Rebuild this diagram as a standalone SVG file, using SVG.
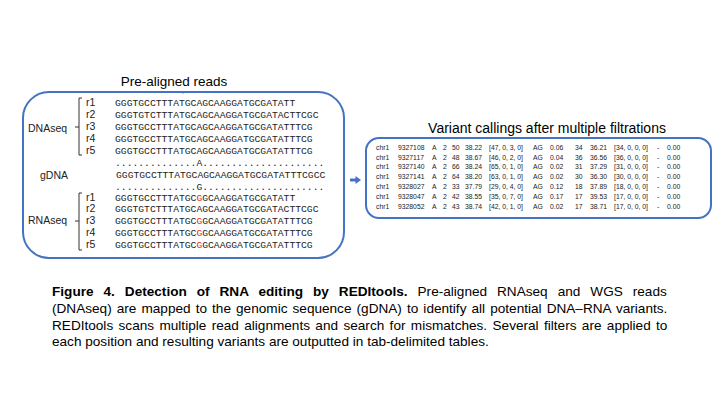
<svg xmlns="http://www.w3.org/2000/svg" width="720" height="405" viewBox="0 0 720 405">
<style>
.box{fill:#fff;stroke:#4472C4;stroke-width:2}
.ttl{font-family:"Liberation Sans",Arial,sans-serif;font-size:14px;fill:#000;text-anchor:middle}
.lbl{font-family:"Liberation Sans",Arial,sans-serif;font-size:10.5px;fill:#222}
.rn{font-family:"Liberation Sans",Arial,sans-serif;font-size:10.5px;fill:#222}
.seq{font-family:"Liberation Mono","Courier New",monospace;font-size:9.7px;fill:#222}
.red{fill:#e0231c}
.br{fill:none;stroke:#333;stroke-width:1}
.tb{font-family:"Liberation Sans",Arial,sans-serif;font-size:6.8px;fill:#222}
.cap{font-family:"Liberation Sans",Arial,sans-serif;font-size:13.6px;fill:#000}
.b{font-weight:bold}
.con{fill:#4472C4}
</style>
<g id="reads">
<text class="ttl" x="174" y="86" style="font-size:13.5px">Pre-aligned reads</text>
<rect class="box" x="23" y="92" width="321" height="166" rx="26" ry="26"/>
<text class="lbl" x="28" y="132">DNAseq</text>
<path class="br" d="M82,98 H79 V155 H82 M79,127 H75"/>
<text class="rn" x="86" y="106">r1</text>
<text class="rn" x="86" y="118">r2</text>
<text class="rn" x="86" y="130">r3</text>
<text class="rn" x="86" y="142">r4</text>
<text class="rn" x="86" y="154">r5</text>
<text class="seq" x="115" y="106">GGGTGCCTTTATGCAGCAAGGATGCGATATT</text>
<text class="seq" x="115" y="118">GGGTGTCTTTATGCAGCAAGGATGCGATACTTCGC</text>
<text class="seq" x="115" y="130">GGGTGCCTTTATGCAGCAAGGATGCGATATTTCG</text>
<text class="seq" x="115" y="142">GGGTGCCTTTATGCAGCAAGGATGCGATATTTCG</text>
<text class="seq" x="115" y="154">GGGTGCCTTTATGCAGCAAGGATGCGATATTTCG</text>
<text class="seq" x="115" y="166">..............A.....................</text>
<text class="lbl" x="40" y="179">gDNA</text>
<text class="seq" x="116" y="178">GGGTGCCTTTATGCAGCAAGGATGCGATATTTCGCC</text>
<text class="seq" x="115" y="190">..............G.....................</text>
<text class="lbl" x="28" y="224">RNAseq</text>
<path class="br" d="M82,193 H79 V250 H82 M79,221 H75"/>
<text class="rn" x="86" y="201">r1</text>
<text class="rn" x="86" y="212">r2</text>
<text class="rn" x="86" y="224">r3</text>
<text class="rn" x="86" y="236">r4</text>
<text class="rn" x="86" y="248">r5</text>
<text class="seq" x="115" y="201">GGGTGCCTTTATGC<tspan class="red">G</tspan>GCAAGGATGCGATATT</text>
<text class="seq" x="115" y="212">GGGTGTCTTTATGCAGCAAGGATGCGATACTTCGC</text>
<text class="seq" x="115" y="224">GGGTGCCTTTATGC<tspan class="red">G</tspan>GCAAGGATGCGATATTTCG</text>
<text class="seq" x="115" y="236">GGGTGCCTTTATGC<tspan class="red">G</tspan>GCAAGGATGCGATATTTCG</text>
<text class="seq" x="115" y="248">GGGTGCCTTTATGC<tspan class="red">G</tspan>GCAAGGATGCGATATTTCG</text>
</g>
<g id="connectors">
<path class="con" d="M350,178.6 H355.5 V176 L361,180 L355.5,184 V181.4 H350 Z"/>
<path class="con" d="M181.5,91.5 H184.5 L183,94 Z"/>
</g>
<g id="variants">
<text class="ttl" x="547" y="133">Variant callings after multiple filtrations</text>
<rect class="box" x="366" y="138" width="345" height="80" rx="13" ry="13"/>
<g class="tb">
<text y="150"><tspan x="376">chr1</tspan><tspan x="398">9327108</tspan><tspan x="432">A</tspan><tspan x="443">2</tspan><tspan x="452">50</tspan><tspan x="465">38.22</tspan><tspan x="489">[47, 0, 3, 0]</tspan><tspan x="533">AG</tspan><tspan x="550">0.06</tspan><tspan x="575">34</tspan><tspan x="590">36.21</tspan><tspan x="614">[34, 0, 0, 0]</tspan><tspan x="657">-</tspan><tspan x="667">0.00</tspan></text>
<text y="160"><tspan x="376">chr1</tspan><tspan x="398">9327117</tspan><tspan x="432">A</tspan><tspan x="443">2</tspan><tspan x="452">48</tspan><tspan x="465">38.67</tspan><tspan x="489">[46, 0, 2, 0]</tspan><tspan x="533">AG</tspan><tspan x="550">0.04</tspan><tspan x="575">36</tspan><tspan x="590">36.56</tspan><tspan x="614">[36, 0, 0, 0]</tspan><tspan x="657">-</tspan><tspan x="667">0.00</tspan></text>
<text y="169"><tspan x="376">chr1</tspan><tspan x="398">9327140</tspan><tspan x="432">A</tspan><tspan x="443">2</tspan><tspan x="452">66</tspan><tspan x="465">38.24</tspan><tspan x="489">[65, 0, 1, 0]</tspan><tspan x="533">AG</tspan><tspan x="550">0.02</tspan><tspan x="575">31</tspan><tspan x="590">37.29</tspan><tspan x="614">[31, 0, 0, 0]</tspan><tspan x="657">-</tspan><tspan x="667">0.00</tspan></text>
<text y="179"><tspan x="376">chr1</tspan><tspan x="398">9327141</tspan><tspan x="432">A</tspan><tspan x="443">2</tspan><tspan x="452">64</tspan><tspan x="465">38.20</tspan><tspan x="489">[63, 0, 1, 0]</tspan><tspan x="533">AG</tspan><tspan x="550">0.02</tspan><tspan x="575">30</tspan><tspan x="590">36.30</tspan><tspan x="614">[30, 0, 0, 0]</tspan><tspan x="657">-</tspan><tspan x="667">0.00</tspan></text>
<text y="189"><tspan x="376">chr1</tspan><tspan x="398">9328027</tspan><tspan x="432">A</tspan><tspan x="443">2</tspan><tspan x="452">33</tspan><tspan x="465">37.79</tspan><tspan x="489">[29, 0, 4, 0]</tspan><tspan x="533">AG</tspan><tspan x="550">0.12</tspan><tspan x="575">18</tspan><tspan x="590">37.89</tspan><tspan x="614">[18, 0, 0, 0]</tspan><tspan x="657">-</tspan><tspan x="667">0.00</tspan></text>
<text y="199"><tspan x="376">chr1</tspan><tspan x="398">9328047</tspan><tspan x="432">A</tspan><tspan x="443">2</tspan><tspan x="452">42</tspan><tspan x="465">38.55</tspan><tspan x="489">[35, 0, 7, 0]</tspan><tspan x="533">AG</tspan><tspan x="550">0.17</tspan><tspan x="575">17</tspan><tspan x="590">39.53</tspan><tspan x="614">[17, 0, 0, 0]</tspan><tspan x="657">-</tspan><tspan x="667">0.00</tspan></text>
<text y="209"><tspan x="376">chr1</tspan><tspan x="398">9328052</tspan><tspan x="432">A</tspan><tspan x="443">2</tspan><tspan x="452">43</tspan><tspan x="465">38.74</tspan><tspan x="489">[42, 0, 1, 0]</tspan><tspan x="533">AG</tspan><tspan x="550">0.02</tspan><tspan x="575">17</tspan><tspan x="590">38.71</tspan><tspan x="614">[17, 0, 0, 0]</tspan><tspan x="657">-</tspan><tspan x="667">0.00</tspan></text>
</g>
</g>
<g id="caption">
<text class="cap" x="52" y="296" word-spacing="6.2"><tspan class="b">Figure 4. Detection of RNA editing by REDItools.</tspan> Pre-aligned RNAseq and WGS reads</text>
<text class="cap" x="52" y="313" word-spacing="1.3">(DNAseq) are mapped to the genomic sequence (gDNA) to identify all potential DNA–RNA variants.</text>
<text class="cap" x="52" y="330" word-spacing="1.6">REDItools scans multiple read alignments and search for mismatches. Several filters are applied to</text>
<text class="cap" x="52" y="346">each position and resulting variants are outputted in tab-delimited tables.</text>
</g>
</svg>
